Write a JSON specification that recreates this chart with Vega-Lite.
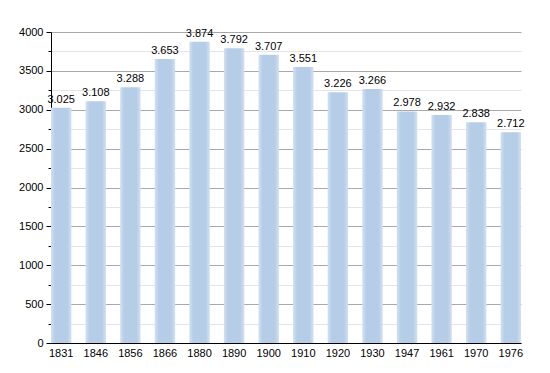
{
  "$schema": "https://vega.github.io/schema/vega-lite/v6.json",
  "width": 470,
  "height": 311,
  "autosize": {"type": "none"},
  "padding": {"left": 51, "top": 32, "right": 29, "bottom": 30},
  "background": "white",
  "config": {
    "view": {"stroke": null},
    "font": "Liberation Sans",
    "locale": {"number": {"decimal": ",", "thousands": ".", "grouping": [3], "currency": ["", "€"]}}
  },
  "data": {
    "values": [
      {"year": "1831", "pop": 3025},
      {"year": "1846", "pop": 3108},
      {"year": "1856", "pop": 3288},
      {"year": "1866", "pop": 3653},
      {"year": "1880", "pop": 3874},
      {"year": "1890", "pop": 3792},
      {"year": "1900", "pop": 3707},
      {"year": "1910", "pop": 3551},
      {"year": "1920", "pop": 3226},
      {"year": "1930", "pop": 3266},
      {"year": "1947", "pop": 2978},
      {"year": "1961", "pop": 2932},
      {"year": "1970", "pop": 2838},
      {"year": "1976", "pop": 2712}
    ]
  },
  "encoding": {
    "x": {
      "field": "year", "type": "ordinal", "sort": null,
      "scale": {"paddingInner": 0.41, "paddingOuter": 0},
      "axis": {"title": null, "labelAngle": 0, "ticks": false, "domainColor": "#000", "labelColor": "#000", "labelFontSize": 11, "labelPadding": 4, "grid": false}
    },
    "y": {
      "field": "pop", "type": "quantitative",
      "scale": {"domain": [0, 4000], "nice": false},
      "axis": {
        "title": null,
        "values": [0,250,500,750,1000,1250,1500,1750,2000,2250,2500,2750,3000,3250,3500,3750,4000],
        "labelExpr": "datum.value % 500 === 0 ? format(datum.value, 'd') : ''",
        "grid": true,
        "gridColor": {"condition": {"test": "datum.value % 500 === 0", "value": "#a8a8a8"}, "value": "#e4e4e4"},
        "tickSize": {"condition": {"test": "datum.value % 500 === 0", "value": 5}, "value": 3},
        "tickColor": "#000",
        "domainColor": "#000",
        "labelColor": "#000",
        "labelFontSize": 11,
        "labelPadding": 3
      }
    }
  },
  "layer": [
    {
      "mark": {
        "type": "bar",
        "color": {
          "gradient": "linear", "x1": 0, "x2": 1, "y1": 0, "y2": 0,
          "stops": [
            {"offset": 0, "color": "#d2e1f1"},
            {"offset": 0.2, "color": "#b6cde7"},
            {"offset": 0.8, "color": "#b6cde7"},
            {"offset": 1, "color": "#d2e1f1"}
          ]
        }
      }
    },
    {
      "mark": {"type": "text", "baseline": "bottom", "dy": -3, "fontSize": 11, "color": "#000"},
      "encoding": {"text": {"field": "pop", "type": "quantitative", "format": ","}}
    }
  ]
}
